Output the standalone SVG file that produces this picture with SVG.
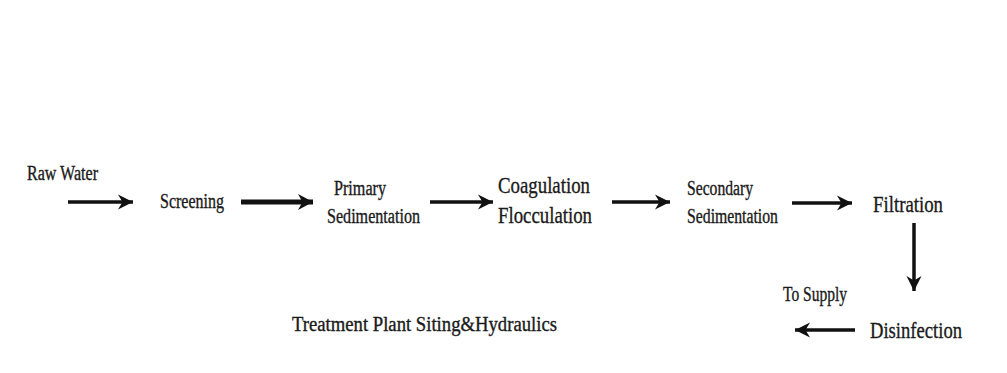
<svg xmlns="http://www.w3.org/2000/svg" width="1007" height="373" viewBox="0 0 1007 373">
<style>
text{font-family:"Liberation Serif","Times New Roman",serif;fill:#1a1a1a;stroke:#1a1a1a;stroke-width:0.35;}
.s{font-size:20px;}
.m{font-size:24px;}
.c{stroke:#111;stroke-width:3.5;fill:none;marker-end:url(#ah);}
.t{stroke-width:5;marker-end:url(#ah2);}
</style>
<defs>
<marker id="ah" markerUnits="userSpaceOnUse" markerWidth="18" markerHeight="18" refX="15" refY="9" orient="auto">
<path d="M0,1.5 L15,9 L0,16.5 L4.5,9 Z" fill="#111"/>
</marker>
<marker id="ah2" markerUnits="userSpaceOnUse" markerWidth="18" markerHeight="20" refX="15" refY="10" orient="auto">
<path d="M0,2 L15,10 L0,18 L4.5,10 Z" fill="#111"/>
</marker>
</defs>
<rect width="1007" height="373" fill="#fff"/>
<g id="connectors">
<line class="c" x1="68" y1="202" x2="133" y2="202"/>
<line class="c t" x1="241" y1="202" x2="313" y2="202"/>
<line class="c" x1="430" y1="202" x2="493" y2="202"/>
<line class="c" x1="612" y1="202" x2="670" y2="202"/>
<line class="c" x1="792" y1="203" x2="852" y2="203"/>
<line class="c" x1="914" y1="223" x2="914" y2="291"/>
<line class="c" x1="855" y1="330" x2="795" y2="330"/>
</g>
<g id="raw-water"><text class="s" x="27" y="180" textLength="71" lengthAdjust="spacingAndGlyphs">Raw Water</text></g>
<g id="screening"><text class="s" x="160" y="208" textLength="64" lengthAdjust="spacingAndGlyphs">Screening</text></g>
<g id="primary-sedimentation">
<text class="s" x="334" y="195" textLength="52" lengthAdjust="spacingAndGlyphs">Primary</text>
<text class="s" x="327" y="223" textLength="93" lengthAdjust="spacingAndGlyphs">Sedimentation</text>
</g>
<g id="coagulation-flocculation">
<text class="m" x="498" y="193" textLength="92" lengthAdjust="spacingAndGlyphs">Coagulation</text>
<text class="m" x="498" y="223" textLength="94" lengthAdjust="spacingAndGlyphs">Flocculation</text>
</g>
<g id="secondary-sedimentation">
<text class="s" x="687" y="195" textLength="66" lengthAdjust="spacingAndGlyphs">Secondary</text>
<text class="s" x="687" y="223" textLength="91" lengthAdjust="spacingAndGlyphs">Sedimentation</text>
</g>
<g id="filtration"><text class="m" x="873" y="212" textLength="70" lengthAdjust="spacingAndGlyphs">Filtration</text></g>
<g id="disinfection"><text class="m" x="870" y="338" textLength="92" lengthAdjust="spacingAndGlyphs">Disinfection</text></g>
<g id="to-supply"><text class="s" x="783" y="301" textLength="64" lengthAdjust="spacingAndGlyphs">To Supply</text></g>
<g id="title"><text class="s" x="292" y="331" textLength="265" lengthAdjust="spacingAndGlyphs">Treatment Plant Siting&amp;Hydraulics</text></g>
</svg>
